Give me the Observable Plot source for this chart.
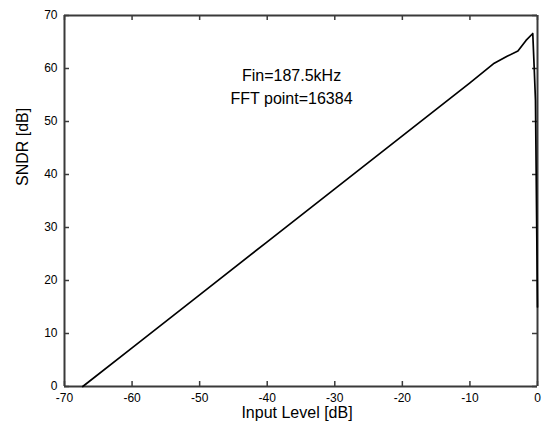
<!DOCTYPE html>
<html>
<head>
<meta charset="utf-8">
<script src="https://cdn.jsdelivr.net/npm/d3@7"></script>
<script src="https://cdn.jsdelivr.net/npm/@observablehq/plot@0.6"></script>
<style>
  html, body { margin: 0; padding: 0; background: #fff; }
</style>
</head>
<body>
<div id="chart"></div>
<script>
const inputLevel = [-67.3, -60, -50, -40, -30, -20, -10, -6.4, -4.5, -2.9, -1.7, -0.7, -0.5, -0.3, 0];
const sndr       = [0, 7.3, 17.3, 27.3, 37.3, 47.3, 57.3, 61.0, 62.3, 63.3, 65.3, 66.6, 60.5, 54, 15];
const xTicks = [-70, -60, -50, -40, -30, -20, -10, 0];
const yTicks = [0, 10, 20, 30, 40, 50, 60, 70];
const annotation = ["Fin=187.5kHz", "FFT point=16384"];
const xLabel = "Input Level [dB]";
const yLabel = "SNDR [dB]";

const W = 544, H = 432, ML = 64, MR = 7, MT = 15, MB = 46;
const FW = W - ML - MR, FH = H - MT - MB, TL = 5;
const data = inputLevel.map((x, i) => ({x, y: sndr[i]}));
const ink = "#3a3a3a";

const chart = Plot.plot({
  width: W, height: H, marginLeft: ML, marginRight: MR, marginTop: MT, marginBottom: MB,
  x: {domain: [-70, 0], ticks: xTicks, tickFormat: d => String(d), tickSize: 0, tickPadding: 7, label: null},
  y: {domain: [0, 70], ticks: yTicks, tickFormat: d => String(d), tickSize: 0, tickPadding: 7, label: null},
  style: {fontFamily: "Liberation Sans, Arial, sans-serif", fontSize: "12px"},
  marks: [
    Plot.tickX(xTicks, {insetTop: FH - TL, stroke: ink, strokeWidth: 1.5}),
    Plot.tickX(xTicks, {insetBottom: FH - TL, stroke: ink, strokeWidth: 1.5}),
    Plot.tickY(yTicks, {insetRight: FW - TL, stroke: ink, strokeWidth: 1.5}),
    Plot.tickY(yTicks, {insetLeft: FW - TL, stroke: ink, strokeWidth: 1.5}),
    Plot.ruleX([-70, 0], {stroke: ink, strokeWidth: 2}),
    Plot.ruleY([0, 70], {stroke: ink, strokeWidth: 2}),
    Plot.line(data, {x: "x", y: "y", stroke: "black", strokeWidth: 1.7}),
    Plot.text([annotation[0]], {x: [-36.4], y: [58.7], fontSize: 16}),
    Plot.text([annotation[1]], {x: [-36.4], y: [54.3], fontSize: 16}),
    Plot.text([xLabel], {frameAnchor: "bottom", dy: 31, dx: -4, fontSize: 16}),
    Plot.text([yLabel], {frameAnchor: "left", dx: -42, dy: -15, rotate: -90, fontSize: 16})
  ]
});
document.getElementById("chart").appendChild(chart);
</script>
</body>
</html>
